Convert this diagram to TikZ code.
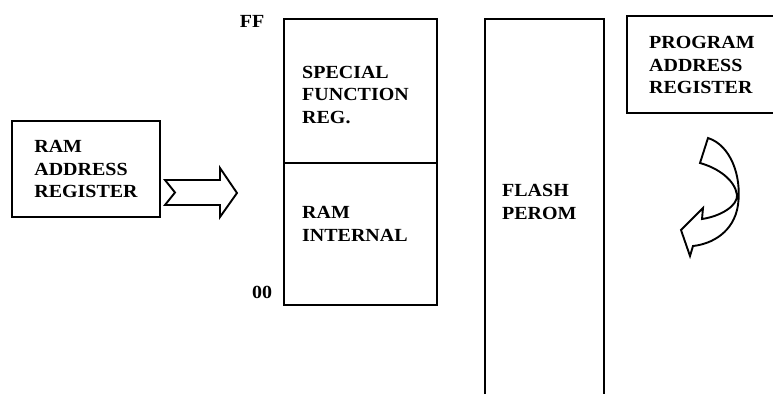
\documentclass[tikz,border=0pt]{standalone}
\usepackage{fontspec}
\setmainfont{Liberation Serif}[FakeStretch=1.08]
\usetikzlibrary{positioning,calc}

\begin{document}
\begin{tikzpicture}[
  x=1pt,y=-1pt,
  font=\fontsize{18.5}{22.5}\selectfont\bfseries,
  box/.style={draw,line width=2.4pt,minimum width=#1,inner sep=0pt,outer sep=0pt},
  lbl/.style={align=left,inner sep=0pt,anchor=west},
  hollow/.style={draw,line width=1.9pt,line join=miter,fill=white},
]
  \useasboundingbox (0,0) rectangle (773,394);

  % RAM address register and its pointer arrow.
  \node[box=148pt,minimum height=96pt] (ramreg) at (86,169) {};
  \node[lbl,anchor=center] (ramregtxt) at (ramreg.center) {RAM\\ADDRESS\\REGISTER};
  \draw[hollow] (165,180) -- (220,180) -- (220,168) -- (237,193)
    -- (220,217) -- (220,205) -- (165,205) -- (175,192.5) -- cycle;

  % Internal data memory, 00 to FF.
  \node[box=153pt,minimum height=144pt,anchor=north west] (sfr) at (284,19) {};
  \node[box=153pt,minimum height=142pt,anchor=north] (ramint) at (sfr.south) {};
  \node[lbl] (sfrtxt) at (302,95) {SPECIAL\\FUNCTION\\REG.};
  \node[lbl] (raminttxt) at (302,224) {RAM\\INTERNAL};
  \node[lbl,anchor=center] (ff) at (252,21) {FF};
  \node[lbl,anchor=center] (zero) at (262,292) {00};

  % Flash program memory (runs off the bottom).
  \draw[line width=2.4pt] (485,394) -- (485,19) -- (604,19) -- (604,394);
  \node[lbl] (flash) at (502,202) {FLASH\\PEROM};

  % Program address register (runs off the right edge).
  \draw[line width=2.4pt] (773,16) -- (627,16) -- (627,113) -- (773,113);
  \node[lbl] (progreg) at (649,65) {PROGRAM\\ADDRESS\\REGISTER};

  % Curved hollow arrow under it.
  \draw[hollow] (708,138) .. controls (730,145) and (742,175) .. (738,205)
    .. controls (734,232) and (712,244) .. (693,246)
    -- (690,256) -- (681,230) -- (703,208) -- (702,219)
    .. controls (722,216) and (738,205) .. (737,195)
    .. controls (735,180) and (718,168) .. (700,163) -- cycle;

\end{tikzpicture}
\end{document}
